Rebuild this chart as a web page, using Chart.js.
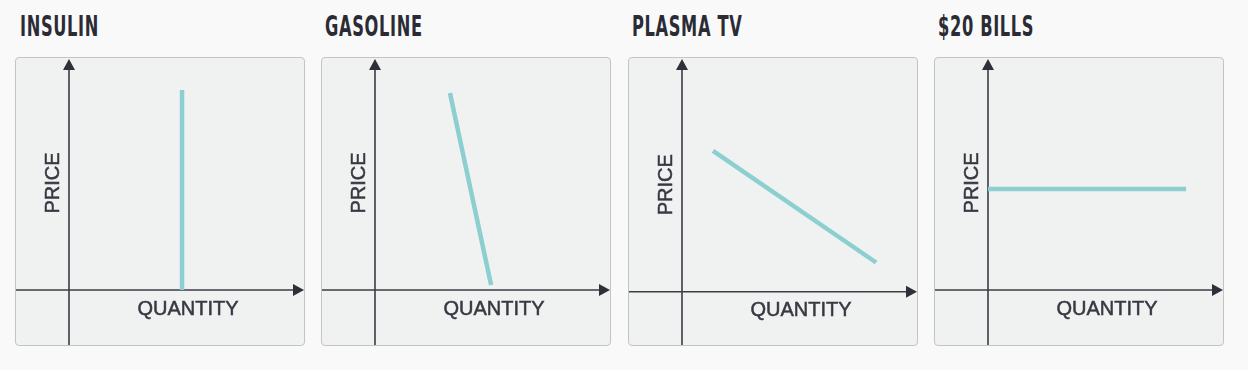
<!DOCTYPE html>
<html><head><meta charset="utf-8">
<script src="https://cdn.jsdelivr.net/npm/chart.js@4.4.1/dist/chart.umd.min.js"></script>
<style>
html,body{margin:0;padding:0;background:#f9f9f9;width:1248px;height:370px;overflow:hidden;}
.title{position:absolute;top:10px;font-family:"DejaVu Sans Condensed","DejaVu Sans",sans-serif;font-weight:bold;font-size:28px;color:#2b2b35;transform:scaleX(0.645);transform-origin:left top;letter-spacing:1px;white-space:nowrap;}
.box{position:absolute;top:57px;width:288px;height:287px;border:1px solid #c4c4c4;border-radius:4px;background:#f0f1f1;overflow:hidden;}
.box canvas{display:block;}
</style></head><body>
<script>
const panelTitles = ["INSULIN", "GASOLINE", "PLASMA TV", "$20 BILLS"];
const xAxisLabel = "QUANTITY";
const yAxisLabel = "PRICE";
// demand curve endpoints per panel: [quantity, price]
const insulinQty = [4.81, 4.81];
const insulinPrice = [8.62, 0];
const gasolineQty = [3.19, 4.94];
const gasolinePrice = [8.49, 0.22];
const plasmaQty = [1.32, 8.26];
const plasmaPrice = [6.03, 1.25];
const billsQty = [0, 8.43];
const billsPrice = [4.35, 4.35];

const seriesQty = [insulinQty, gasolineQty, plasmaQty, billsQty];
const seriesPrice = [insulinPrice, gasolinePrice, plasmaPrice, billsPrice];
const boxLefts = [15, 321, 628, 934];
const titleLefts = [20, 325, 632, 938];
const yMins = [-2.37, -2.37, -2.28, -2.37];

const axisPlugin = {
  id: 'axes',
  beforeDatasetsDraw(chart) {
    const ctx = chart.ctx, xs = chart.scales.x, ys = chart.scales.y;
    const ox = xs.getPixelForValue(0), oy = ys.getPixelForValue(0);
    const left = chart.chartArea.left, right = chart.chartArea.right;
    const top = chart.chartArea.top, bottom = chart.chartArea.bottom;
    ctx.save();
    ctx.strokeStyle = '#3c3c46'; ctx.fillStyle = '#2f2f3a'; ctx.lineWidth = 1.6;
    ctx.beginPath();
    ctx.moveTo(left, oy); ctx.lineTo(right - 8, oy);
    ctx.moveTo(ox, bottom); ctx.lineTo(ox, top + 9);
    ctx.stroke();
    // arrowheads
    ctx.beginPath();
    ctx.moveTo(right, oy); ctx.lineTo(right - 11, oy - 6); ctx.lineTo(right - 11, oy + 6); ctx.closePath();
    ctx.fill();
    ctx.beginPath();
    ctx.moveTo(ox, top + 1); ctx.lineTo(ox - 6, top + 12); ctx.lineTo(ox + 6, top + 12); ctx.closePath();
    ctx.fill();
    // labels
    ctx.fillStyle = '#383842';
    ctx.strokeStyle = '#383842';
    ctx.lineWidth = 0.5;
    ctx.font = '20px "Liberation Sans", Arial, sans-serif';
    ctx.textAlign = 'center'; ctx.textBaseline = 'middle';
    ctx.fillText(xAxisLabel, ox + 119, oy + 19);
    ctx.strokeText(xAxisLabel, ox + 119, oy + 19);
    ctx.translate(ox - 16, oy - 107);
    ctx.rotate(-Math.PI / 2);
    ctx.fillText(yAxisLabel, 0, 0);
    ctx.strokeText(yAxisLabel, 0, 0);
    ctx.restore();
  }
};

panelTitles.forEach((t, i) => {
  const title = document.createElement('div');
  title.className = 'title';
  title.style.left = titleLefts[i] + 'px';
  title.textContent = t;
  document.body.appendChild(title);
  const box = document.createElement('div');
  box.className = 'box';
  box.style.left = boxLefts[i] + 'px';
  const cv = document.createElement('canvas');
  cv.width = 288; cv.height = 287;
  cv.style.width = '288px'; cv.style.height = '287px';
  box.appendChild(cv);
  document.body.appendChild(box);
  const pts = seriesQty[i].map((q, k) => ({x: q, y: seriesPrice[i][k]}));
  new Chart(cv, {
    type: 'scatter',
    data: {datasets: [{data: pts, showLine: true, borderColor: '#8ccfd0', borderWidth: 4.5, pointRadius: 0, borderCapStyle: 'butt'}]},
    options: {
      responsive: false, animation: false,
      layout: {padding: 0},
      plugins: {legend: {display: false}, tooltip: {enabled: false}},
      scales: {
        x: {type: 'linear', min: -2.255, max: 10, display: false},
        y: {type: 'linear', min: yMins[i], max: 10, display: false}
      }
    },
    plugins: [axisPlugin]
  });
});
</script>
</body></html>
